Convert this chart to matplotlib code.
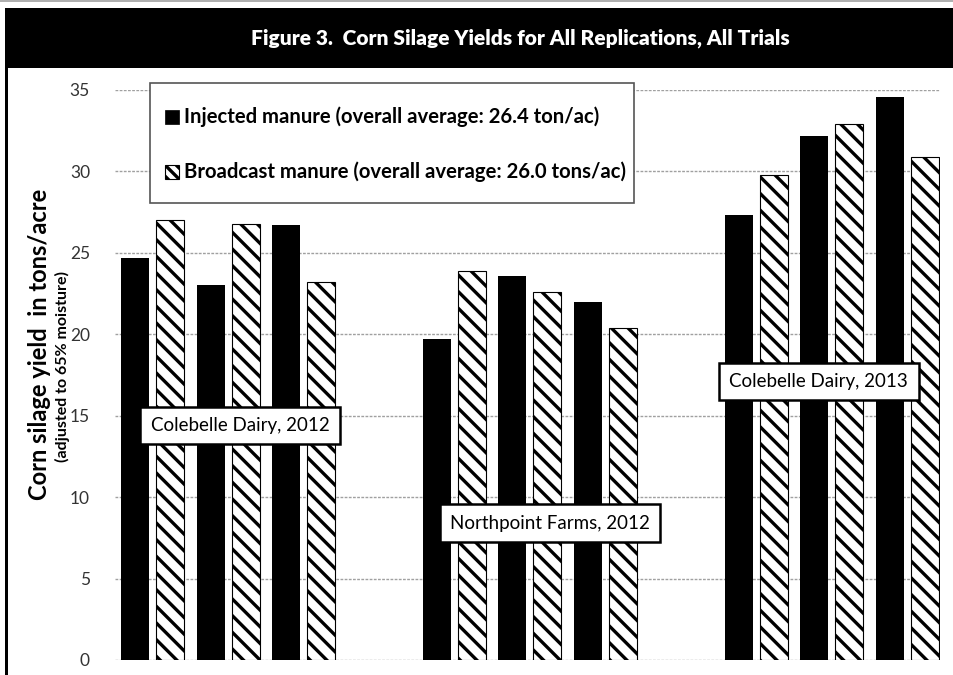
import matplotlib
matplotlib.use("Agg")
import matplotlib.pyplot as plt
from matplotlib.patches import Rectangle

plt.rcParams['font.family'] = ['Lato', 'DejaVu Sans']
plt.rcParams['hatch.linewidth'] = 2.4

# yields in tons/acre (replications in plot order)
trials = ["Colebelle Dairy, 2012", "Northpoint Farms, 2012", "Colebelle Dairy, 2013"]
injected = [24.7, 23.0, 26.7, 19.7, 23.6, 22.0, 27.3, 32.2, 34.6]
broadcast = [27.0, 26.8, 23.2, 23.9, 22.6, 20.4, 29.8, 32.9, 30.9]
slots = [0, 1, 2, 4, 5, 6, 8, 9, 10]   # one empty slot between trials
yticks = [0, 5, 10, 15, 20, 25, 30, 35]
legend_labels = ["Injected manure (overall average: 26.4 ton/ac)",
                 "Broadcast manure (overall average: 26.0 tons/ac)"]

W, H = 954, 675
def px(x, y):
    return x / W, 1 - y / H

fig = plt.figure(figsize=(W / 100, H / 100), dpi=100)
ax = fig.add_axes([115 / W, 1 - 660 / H, 825 / W, 570 / H])

bw = 0.371
ax.bar(slots, injected, width=bw, align="edge", color="black", lw=0, zorder=2)
ax.bar([s + 0.464 for s in slots], broadcast, width=bw, align="edge",
       facecolor="white", edgecolor="black", hatch="\\\\", lw=0.8, zorder=2)

ax.set_xlim(-0.08, 10.85)
ax.set_ylim(0, 35)
ax.set_yticks(yticks)
ax.set_xticks([])
ax.grid(axis="y", color="#a0a0a0", ls=(0, (2, 1)), lw=1, zorder=0)
ax.tick_params(axis="y", length=0, pad=18, labelsize=12.5, labelcolor="#333333")
for s in ax.spines.values():
    s.set_visible(False)

# trial name boxes
for name, (x, y) in zip(trials, [(1.576, 14.4), (5.68, 8.4), (9.245, 17.1)]):
    ax.text(x, y, name, ha="center", va="center", fontsize=13.5, zorder=5,
            bbox=dict(boxstyle="square,pad=0.55", fc="white", ec="black", lw=1.8))

# legend box
lx0, ly0 = px(150, 203)
lx1, ly1 = px(634, 83)
fig.patches.append(Rectangle((lx0, ly0), lx1 - lx0, ly1 - ly0, transform=fig.transFigure,
                             fc="white", ec="#555555", lw=1.2, zorder=6))
for i, (lab, y) in enumerate(zip(legend_labels, [117, 172])):
    sx, sy = px(165, y + 7)
    sw, sh = 14 / W, 14 / H
    if i == 0:
        sq = Rectangle((sx, sy), sw, sh, transform=fig.transFigure, fc="black", ec="black", lw=0.5, zorder=7)
    else:
        sq = Rectangle((sx, sy), sw, sh, transform=fig.transFigure, fc="white", ec="black",
                       hatch="\\\\\\", lw=0.8, zorder=7)
    fig.patches.append(sq)
    tx, ty = px(184, y)
    fig.text(tx, ty, lab, ha="left", va="center", fontsize=14.6, fontweight="bold", zorder=8)

# frame: title bar and left border
bx, by = px(5, 68)
fig.patches.append(Rectangle((bx, by), 1 - bx, 60 / H, transform=fig.transFigure,
                             fc="black", ec="none", zorder=1))
fig.patches.append(Rectangle((5 / W, 0), 2.5 / W, 1 - 8 / H, transform=fig.transFigure,
                             fc="black", ec="none", zorder=1))
fig.patches.append(Rectangle((0, 1 - 2 / H), 1, 2 / H, transform=fig.transFigure,
                             fc="#b0b0b0", ec="none", zorder=1))
tx, ty = px(520, 38)
fig.text(tx, ty, "Figure 3.  Corn Silage Yields for All Replications, All Trials",
         ha="center", va="center", color="white", fontsize=15, fontweight="heavy")

# y axis title
x, y = px(40, 344)
fig.text(x, y, "Corn silage yield  in tons/acre", rotation=90, ha="center", va="center",
         fontsize=17, fontweight="bold")
x, y = px(62, 366)
fig.text(x, y, "(adjusted to 65% moisture)", rotation=90, ha="center", va="center",
         fontsize=11.5, fontweight="bold")

fig.savefig("out.png", dpi=100)
